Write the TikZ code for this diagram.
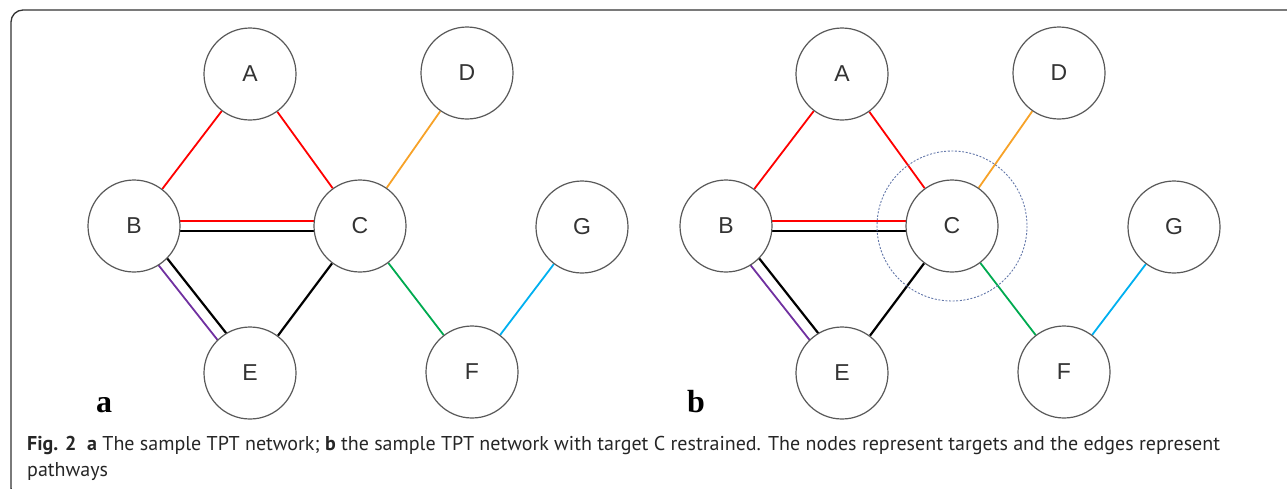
\documentclass[tikz,border=0pt]{standalone}
\usepackage{fontspec}
\setmainfont{Liberation Sans}
\newfontfamily\capfont{PT Sans}
\newfontfamily\panelfont{Liberation Serif}
\usetikzlibrary{calc,backgrounds}
\definecolor{tptred}{RGB}{255,0,0}
\definecolor{tptorange}{RGB}{247,162,40}
\definecolor{tptgreen}{RGB}{0,170,80}
\definecolor{tptblue}{RGB}{0,176,240}
\definecolor{tptpurple}{RGB}{112,48,160}
\definecolor{restrain}{RGB}{100,120,170}
\tikzset{
  target/.style={circle,draw=black!65,line width=1.2pt,fill=white,minimum size=92pt,inner sep=0pt,
    font=\fontsize{23}{23}\selectfont,text=black!80},
  pathway/.style={line width=1.8pt},
  panel/.style={anchor=base,font=\panelfont\bfseries\fontsize{32}{32}\selectfont}
}

\begin{document}
\begin{tikzpicture}[x=1pt,y=-1pt]
			\useasboundingbox (0,0) rectangle (1287,488);
			\draw[black!80,line width=1.3pt,rounded corners=12pt] (1300,10) -- (11,10) -- (11,500) -- (40,500);
			\node[target] (aA) at (250,74) {A};
			\node[target] (aD) at (467,73) {D};
			\node[target] (aB) at (134,226) {B};
			\node[target] (aC) at (360,226) {C};
			\node[target] (aG) at (582,227) {G};
			\node[target] (aE) at (250,373) {E};
			\node[target] (aF) at (472,372) {F};
			\node[panel] (la) at (104,412) {a};
			\begin{scope}[xshift=592pt]
			\node[target] (bA) at (250,74) {A};
			\node[target] (bD) at (467,73) {D};
			\node[target] (bB) at (134,226) {B};
			\node[target] (bC) at (360,226) {C};
			\node[target] (bG) at (582,227) {G};
			\node[target] (bE) at (250,373) {E};
			\node[target] (bF) at (472,372) {F};
			\node[panel] (lb) at (104,412) {b};
			\draw[restrain,line width=0.9pt,dash pattern=on 2pt off 1.6pt] (bC) circle (75);
			\end{scope}
			\begin{scope}[on background layer]
			\draw[pathway,tptred] (aA) -- (aB);
			\draw[pathway,tptred] (aA) -- (aC);
			\draw[pathway,tptorange] (aC) -- (aD);
			\draw[pathway,tptred] ($(aB)!5pt!90:(aC)$) -- ($(aC)!5pt!-90:(aB)$);
			\draw[pathway,black,line width=2.2pt] ($(aB)!5pt!-90:(aC)$) -- ($(aC)!5pt!90:(aB)$);
			\draw[pathway,black,line width=2.2pt] ($(aB)!6pt!90:(aE)$) -- ($(aE)!6pt!-90:(aB)$);
			\draw[pathway,tptpurple] ($(aB)!5pt!-90:(aE)$) -- ($(aE)!5pt!90:(aB)$);
			\draw[pathway,black,line width=2.2pt] (aC) -- (aE);
			\draw[pathway,tptgreen] (aC) -- (aF);
			\draw[pathway,tptblue] (aF) -- (aG);
			\draw[pathway,tptred] (bA) -- (bB);
			\draw[pathway,tptred] (bA) -- (bC);
			\draw[pathway,tptorange] (bC) -- (bD);
			\draw[pathway,tptred] ($(bB)!5pt!90:(bC)$) -- ($(bC)!5pt!-90:(bB)$);
			\draw[pathway,black,line width=2.2pt] ($(bB)!5pt!-90:(bC)$) -- ($(bC)!5pt!90:(bB)$);
			\draw[pathway,black,line width=2.2pt] ($(bB)!6pt!90:(bE)$) -- ($(bE)!6pt!-90:(bB)$);
			\draw[pathway,tptpurple] ($(bB)!5pt!-90:(bE)$) -- ($(bE)!5pt!90:(bB)$);
			\draw[pathway,black,line width=2.2pt] (bC) -- (bE);
			\draw[pathway,tptgreen] (bC) -- (bF);
			\draw[pathway,tptblue] (bF) -- (bG);
			\end{scope}
			\node[anchor=base west,align=left,inner sep=0pt,text=black!85,font=\capfont\fontsize{20}{26}\selectfont] (cap) at (27,476)
				{\textbf{Fig. 2}\ \ \textbf{a} The sample TPT network; \textbf{b} the sample TPT network with target C restrained. The nodes represent targets and the edges represent\\pathways};
		\end{tikzpicture}
\end{document}
